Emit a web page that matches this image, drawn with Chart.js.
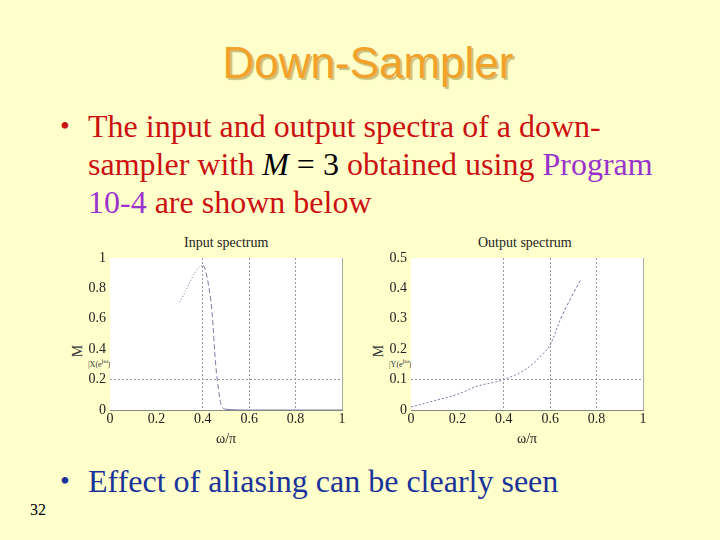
<!DOCTYPE html>
<html>
<head>
<meta charset="utf-8">
<script src="https://cdn.jsdelivr.net/npm/chart.js@4"></script>
<style>
  html,body{margin:0;padding:0;}
  body{width:720px;height:540px;background:#ffffcc;position:relative;overflow:hidden;font-family:"Liberation Serif","Times New Roman",serif;}
  .abs{position:absolute;white-space:nowrap;}
  #title{left:0;width:736px;top:38px;text-align:center;font-family:"Liberation Sans",Arial,sans-serif;font-size:44px;color:#f2a22a;text-shadow:2px 2px 1px #c9c07a;}
  .bul{font-size:32px;line-height:38px;color:#cc1111;}
  .dot{position:absolute;left:-28px;font-size:28px;}
  .purple{color:#9933cc;}
  .blk{color:#000;}
  .ctitle{font-size:14px;color:#222;}
  .ylab{font-size:8px;color:#333;}
  .yrot{font-size:14px;color:#333;transform:rotate(-90deg);}
  canvas{position:absolute;}
</style>
</head>
<body>
<div id="title" class="abs">Down-Sampler</div>

<div class="abs bul" style="left:88px;top:107px;">
  <span class="dot">&#8226;</span>The input and output spectra of a down-<br>
  sampler with <i class="blk">M</i> <span class="blk">= 3</span> obtained using <span class="purple">Program</span><br>
  <span class="purple">10-4</span> are shown below
</div>

<div class="abs ctitle" style="left:184px;top:235px;">Input spectrum</div>
<div class="abs ctitle" style="left:478px;top:235px;">Output spectrum</div>

<div class="abs yrot" style="left:72px;top:343px;">M</div>
<div class="abs ylab" style="left:88px;top:357px;">|X(e<sup>jω</sup>)|</div>
<div class="abs yrot" style="left:373px;top:343px;">M</div>
<div class="abs ylab" style="left:389px;top:357px;">|Y(e<sup>jω</sup>)|</div>

<canvas id="c1" width="290" height="218" style="left:60px;top:232px;"></canvas>
<canvas id="c2" width="290" height="218" style="left:361px;top:232px;"></canvas>

<div class="abs bul" style="left:88px;top:462px;color:#1a3399;">
  <span class="dot">&#8226;</span>Effect of aliasing can be clearly seen
</div>
<div class="abs" style="left:30px;top:501px;font-size:16px;color:#000;">32</div>

<script>
/* DATA */
const inX=[0.30,0.40,0.42,0.44,0.455,0.47,0.48,0.50,0.60,0.80,1.00];
const inY=[0.71,0.95,0.86,0.64,0.31,0.11,0.03,0.005,0,0,0];
const outX=[0,0.068,0.212,0.28,0.40,0.50,0.57,0.60,0.645,0.69,0.733];
const outY=[0.01,0.024,0.055,0.077,0.10,0.137,0.186,0.214,0.30,0.37,0.43];
const xTicks=[0,0.2,0.4,0.6,0.8,1];
const xGrid=[0.4,0.6,0.8];

const FONT={family:"'Liberation Serif','Times New Roman',serif",size:14};
const near=(v,list)=>list.some(g=>Math.abs(g-v)<1e-6);

/* white plot area + right edge */
const plotBg={
  id:"plotBg",
  beforeDraw(chart){
    const {ctx,chartArea:a}=chart;
    ctx.save();
    ctx.fillStyle="#fff";
    ctx.fillRect(a.left,a.top,a.right-a.left,a.bottom-a.top);
    ctx.strokeStyle="#aaa";
    ctx.lineWidth=1;
    ctx.beginPath();
    ctx.moveTo(a.right+.5,a.top);ctx.lineTo(a.right+.5,a.bottom);
    ctx.stroke();
    ctx.restore();
  }
};

function makeChart(id,xs,ys,yMax,yStep,yGrid,dashFn){
  return new Chart(document.getElementById(id),{
    type:"line",
    data:{datasets:[{
      data:xs.map((x,i)=>({x:x,y:ys[i]})),
      borderColor:"#7a7aa8",
      borderWidth:1,
      pointRadius:0,
      cubicInterpolationMode:"monotone",
      segment:{borderDash:dashFn}
    }]},
    options:{
      responsive:false,
      animation:false,
      layout:{padding:{top:26,right:8,left:0,bottom:0}},
      plugins:{legend:{display:false},tooltip:{enabled:false}},
      scales:{
        x:{
          type:"linear",min:0,max:1,
          afterBuildTicks:s=>{s.ticks=xTicks.map(v=>({value:v}));},
          afterFit:s=>{s.height=40;},
          ticks:{font:FONT,color:"#222",padding:1,callback:v=>String(Math.round(v*10)/10)},
          grid:{drawTicks:false,color:c=>near(c.tick.value,xGrid)?"#999":"transparent"},
          border:{color:"#888",dash:[2,2]},
          title:{display:true,text:"ω/π",font:FONT,color:"#222",padding:{top:2,bottom:2}}
        },
        y:{
          min:0,max:yMax,
          afterFit:s=>{s.width=50;},
          ticks:{stepSize:yStep,font:FONT,color:"#222",padding:4,callback:v=>String(Math.round(v*10)/10)},
          grid:{drawTicks:false,color:c=>near(c.tick.value,[yGrid])?"#999":"transparent"},
          border:{display:false,dash:[2,2]}
        }
      }
    },
    plugins:[plotBg]
  });
}

makeChart("c1",inX,inY,1,0.2,0.2,ctx=>ctx.p0DataIndex<1?[1,2]:ctx.p0DataIndex<7?[5,3]:undefined);
makeChart("c2",outX,outY,0.5,0.1,0.1,ctx=>ctx.p0DataIndex<8?[2,2]:[3,2]);
</script>
</body>
</html>
